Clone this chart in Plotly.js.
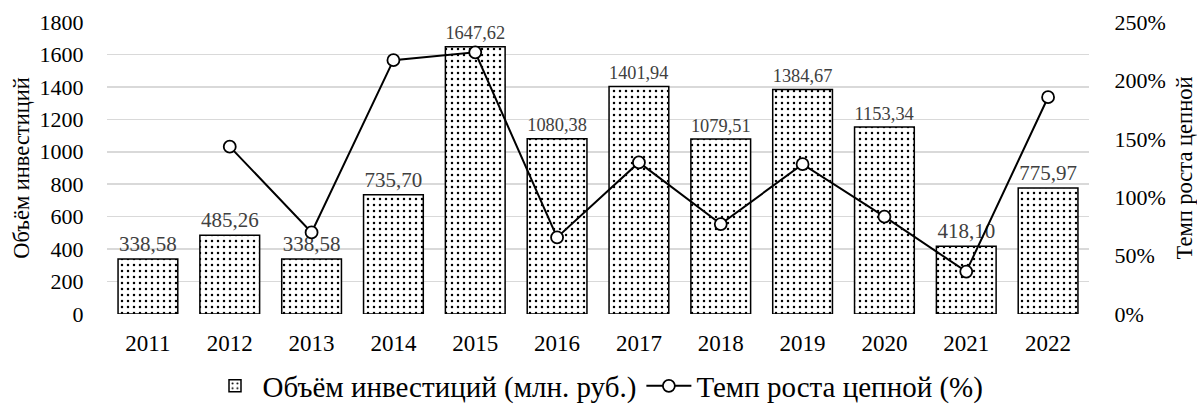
<!DOCTYPE html>
<html><head><meta charset="utf-8">
<script src="https://cdn.plot.ly/plotly-3.0.1.min.js"></script>
<style>html,body{margin:0;padding:0;background:#fff}#c{width:1197px;height:405px}</style>
</head><body><div id="c"></div>
<script>
const years = ['2011','2012','2013','2014','2015','2016','2017','2018','2019','2020','2021','2022'];
const investment = [338.58,485.26,338.58,735.70,1647.62,1080.38,1401.94,1079.51,1384.67,1153.34,418.10,775.97];
const growthRate = [null,143.3,69.8,217.3,224.0,65.6,129.8,77.0,128.3,83.3,36.3,185.6];
const barLabels = investment.map(v => v.toFixed(2).replace('.', ','));
const F = "'Liberation Serif', 'Times New Roman', serif";

const traces = [
  {type:'bar', x:years, y:investment, name:'Объём инвестиций (млн. руб.)',
   text:barLabels, textposition:'outside', cliponaxis:false,
   textfont:{family:F, size:21, color:'#404040'},
   marker:{color:'#ffffff', line:{color:'#000', width:1.5},
     pattern:{shape:'.', fgcolor:'#000', bgcolor:'#fff', size:6, solidity:0.14}},
   yaxis:'y'},
  {type:'scatter', mode:'lines+markers', x:years, y:growthRate, name:'Темп роста цепной (%)',
   line:{color:'#000', width:2}, marker:{symbol:'circle', size:12, color:'#fff', line:{color:'#000', width:1.8}},
   yaxis:'y2', connectgaps:false}
];
const layout = {
  width:1197, height:405, margin:{l:107, r:108, t:22, b:91},
  paper_bgcolor:'#fff', plot_bgcolor:'#fff',
  font:{family:F, size:21, color:'#000'},
  bargap:0.27, showlegend:true,
  legend:{orientation:'h', x:0.5, xanchor:'center', yref:'container', y:0.047, yanchor:'middle', font:{family:F, size:29}, itemwidth:45},
  xaxis:{type:'category', range:[-0.5, 11.5], automargin:false, tickfont:{family:F,size:23}, showgrid:false, zeroline:false, showline:false, ticks:'outside', ticklen:8, tickcolor:'rgba(0,0,0,0)'},
  yaxis:{range:[0,1800], dtick:200, automargin:false, tickfont:{family:F,size:22}, gridcolor:'#d9d9d9', gridwidth:1.5, zeroline:false,
    ticks:'outside', ticklen:18, tickcolor:'rgba(0,0,0,0)',
    title:{text:'Объём инвестиций', font:{family:F,size:22.5}, standoff:3}},
  yaxis2:{range:[0,250], dtick:50, overlaying:'y', side:'right', automargin:false, showgrid:false, zeroline:false, ticksuffix:'%',
    tickfont:{family:F,size:22}, ticks:'outside', ticklen:20, tickcolor:'rgba(0,0,0,0)',
    title:{text:'Темп роста цепной', font:{family:F,size:22.5}, standoff:22}}
};
Plotly.newPlot('c', traces, layout, {displayModeBar:false, staticPlot:true});
</script></body></html>
